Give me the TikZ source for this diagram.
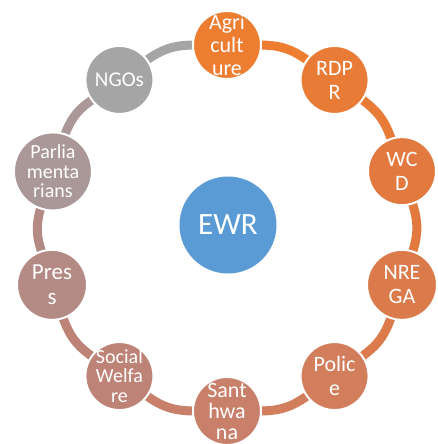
\documentclass[tikz,border=0pt]{standalone}
\usepackage{fontspec}
\setmainfont{Carlito}
\usepackage{tikz}
\usetikzlibrary{positioning,backgrounds}
\definecolor{ewrcol}{HTML}{5B9BD5}
\definecolor{agricol}{HTML}{ED7D31}
\definecolor{rdprcol}{HTML}{E87B36}
\definecolor{wcdcol}{HTML}{E27A40}
\definecolor{nregacol}{HTML}{DB7A4A}
\definecolor{policecol}{HTML}{D27D5B}
\definecolor{santhcol}{HTML}{C8806A}
\definecolor{socialcol}{HTML}{BE8377}
\definecolor{presscol}{HTML}{B48A85}
\definecolor{parlcol}{HTML}{AA9797}
\definecolor{ngocol}{HTML}{A5A5A5}
\tikzset{
  ball/.style={circle, draw=white, line width=2pt, minimum size=68pt, inner sep=0pt},
  lbl/.style={text=white, align=center, inner sep=0pt, font=\fontsize{22}{24}\selectfont},
  small lbl/.style={lbl, font=\fontsize{20}{19.5}\selectfont},
  hub/.style={circle, fill=ewrcol, minimum size=97pt, inner sep=0pt, text=white,
              font=\fontsize{31}{36}\selectfont},
  link/.style={line width=9pt}
}

\begin{document}
\begin{tikzpicture}[x=1pt,y=1pt]
    \useasboundingbox (-227,-216) rectangle (210,228);
    % Draw hub
    \node[hub] (ewr) at (1,3) {EWR};
    % Draw ring
    \node[ball, fill=agricol, label={[lbl, font=\fontsize{22}{23}\selectfont]center:Agri\\cult\\ure}] (agri) at (90:183) {};
    \node[ball, fill=rdprcol, label={[lbl]center:RDP\\R}] (rdpr) at (54:183) {};
    \node[ball, fill=wcdcol, label={[lbl]center:WC\\D}] (wcd) at (18:184) {};
    \node[ball, fill=nregacol, minimum size=70pt, label={[lbl]center:NRE\\GA}] (nrega) at (-18:184) {};
    \node[ball, fill=policecol, label={[lbl]center:Polic\\e}] (police) at (-54:183) {};
    \node[ball, fill=santhcol, label={[lbl, font=\fontsize{22}{21}\selectfont]center:Sant\\hwa\\na}] (santh) at (-90:183) {};
    \node[ball, fill=socialcol, label={[small lbl]center:Social\\Welfa\\re}] (social) at (-126:183) {};
    \node[ball, fill=presscol, minimum size=70pt, label={[lbl, font=\fontsize{23}{25}\selectfont]center:Pres\\s}] (press) at (-162:184) {};
    \node[ball, fill=parlcol, minimum size=78pt, label={[small lbl]center:Parlia\\menta\\rians}] (parl) at (162:183) {};
    \node[ball, fill=ngocol, label={[lbl, font=\fontsize{21}{23}\selectfont]center:NGOs}] (ngo) at (126:183) {};
    % Draw links
    \begin{scope}[on background layer]
      \foreach \from/\to/\col in {agri/rdpr/agricol, rdpr/wcd/rdprcol, wcd/nrega/wcdcol,
                                  nrega/police/nregacol, police/santh/policecol, santh/social/santhcol,
                                  social/press/socialcol, press/parl/presscol, parl/ngo/parlcol, ngo/agri/ngocol}
        \draw[link, draw=\col, shorten <=-4pt, shorten >=-4pt] (\from) to[bend left=18] (\to);
    \end{scope}
\end{tikzpicture}
\end{document}
